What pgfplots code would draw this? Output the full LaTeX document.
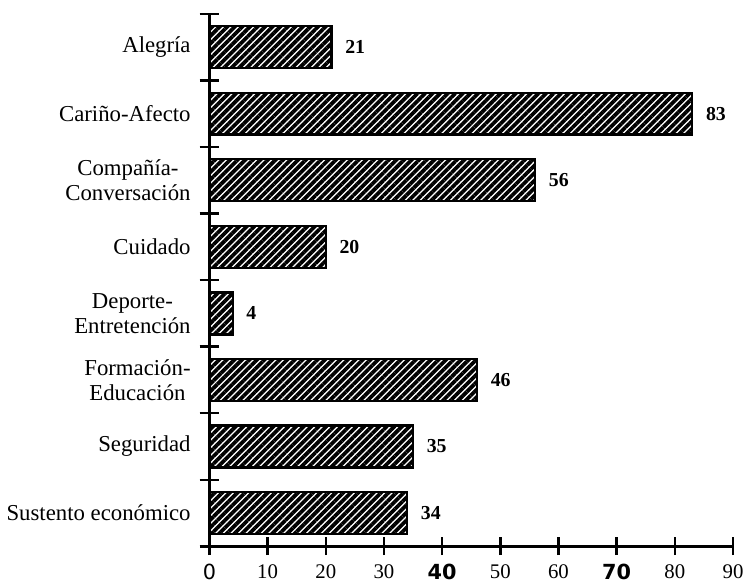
\documentclass[border=0pt]{standalone}
\usepackage{fontspec}
\setmainfont{Liberation Serif}
\setsansfont{DejaVu Sans}
\usepackage{pgfplots}
\pgfplotsset{compat=1.18}
\usetikzlibrary{patterns.meta}
\begin{document}
\begin{tikzpicture}
\begin{axis}[
  xbar,
  scale only axis,
  width=264.5pt, height=269pt,
  xmin=0, xmax=90, ymin=-0.5, ymax=7.5,
  /pgf/number format/assume math mode=true,
  axis lines=left,
  axis line style={-, line width=1.4pt},
  clip=false,
  xtick={0,10,...,90},
  xticklabels={{\sffamily 0},10,20,30,{\sffamily\bfseries 40},50,60,{\sffamily\bfseries 70},80,90},
  ytick={0,...,7},
  yticklabels={Sustento económico, Seguridad, {Formación-\\Educación}, {Deporte-\\Entretención}, Cuidado, {Compañía-\\Conversación}, Cariño-Afecto, Alegría},
  minor ytick={-0.5,0.5,...,7.5},
  tick align=center,
  major tick length=9pt,
  minor tick length=10pt,
  every major y tick/.append style={draw=none},
  every minor y tick/.append style={line width=1.2pt, black},
  every major x tick/.append style={line width=1.2pt, black},
  yticklabel style={align=center, font=\fontsize{11.5}{12.5}\selectfont, xshift=-1.5pt},
  xticklabel style={font=\fontsize{10.5}{12}\selectfont, yshift=-1pt},
  bar width=0.63,
  nodes near coords,
  nodes near coords style={font=\bfseries\fontsize{10}{10}\selectfont, xshift=3pt},
  after end axis/.code={\path (rel axis cs:0,1) ++(0,7pt);},
]
\addplot[draw=black, line width=1.2pt,
  pattern={Lines[angle=45,distance=2.7pt,line width=1.9pt]}, pattern color=black]
  coordinates {(34,0) (35,1) (46,2) (4,3) (20,4) (56,5) (83,6) (21,7)};
\end{axis}
\end{tikzpicture}
\end{document}
